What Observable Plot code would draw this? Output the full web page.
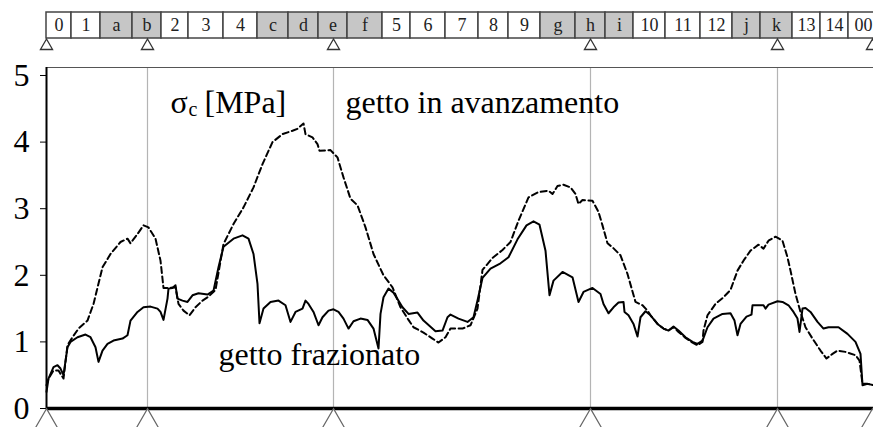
<!DOCTYPE html>
<html>
<head>
<meta charset="utf-8">
<script src="https://cdn.jsdelivr.net/npm/d3@7"></script>
<script src="https://cdn.jsdelivr.net/npm/@observablehq/plot@0.6"></script>
<style>
  html, body { margin: 0; padding: 0; background: white; overflow: hidden; }
  svg { display: block; }
</style>
</head>
<body>
<div id="chart"></div>
<script>
// ---- data (positions along the deck, arbitrary length unit) ----
const segLabels = ["0","1","a","b","2","3","4","c","d","e","f","5","6","7","8","9","g","h","i","10","11","12","j","k","13","14","00"];
const segStarts = [0,25,54,86,115,142,177,211,242,272,301,336,364,399,432,462,494,529,559,587,619,654,686,714,746,774,802];
const segEnd = 832;
const supports = [0,101,287,544,731,826];
const yTicks = [0,1,2,3,4,5];

// getto frazionato (solid)
const frazS = [0,2,7,11,14,17,21,24,31,39,44,49,52,56,61,67,76,81,84,91,97,104,111,114,117,121,122,126,129,131,136,141,146,152,161,167,172,177,187,196,202,207,211,213,217,224,232,239,244,249,256,259,262,267,272,276,282,287,292,297,302,307,314,321,327,332,334,337,342,347,356,362,371,377,389,396,401,404,412,421,427,431,436,444,454,462,471,480,487,493,499,503,507,516,526,532,537,546,554,557,562,567,572,577,578,582,587,591,594,599,604,611,617,622,627,632,639,646,651,656,661,667,676,684,688,691,694,700,705,706,717,719,722,731,736,742,747,751,753,756,759,764,771,777,782,792,801,809,814,816,821,827];
const frazV = [0.25,0.45,0.62,0.65,0.60,0.50,0.92,1.00,1.07,1.11,1.07,0.92,0.70,0.87,0.97,1.02,1.05,1.10,1.32,1.45,1.52,1.53,1.50,1.45,1.33,1.65,1.80,1.81,1.85,1.65,1.62,1.60,1.70,1.73,1.71,1.77,2.12,2.43,2.55,2.60,2.55,2.32,1.87,1.28,1.50,1.60,1.62,1.55,1.30,1.45,1.50,1.62,1.57,1.45,1.25,1.37,1.47,1.49,1.45,1.35,1.20,1.31,1.35,1.33,1.20,0.90,1.42,1.67,1.80,1.74,1.52,1.42,1.44,1.32,1.16,1.17,1.37,1.41,1.35,1.30,1.37,1.62,1.96,2.10,2.18,2.27,2.54,2.75,2.81,2.76,2.37,1.70,1.92,2.05,1.97,1.60,1.75,1.81,1.72,1.57,1.43,1.52,1.59,1.60,1.45,1.40,1.27,1.08,1.37,1.46,1.40,1.27,1.20,1.17,1.23,1.17,1.07,1.00,0.97,1.02,1.22,1.35,1.42,1.43,1.32,1.10,1.27,1.38,1.41,1.55,1.55,1.50,1.56,1.61,1.60,1.55,1.45,1.35,1.15,1.50,1.51,1.45,1.30,1.20,1.22,1.22,1.12,1.00,0.82,0.35,0.37,0.35];

// getto in avanzamento (dashed)
const avanzS = [0,2,7,12,17,21,26,32,41,47,56,64,74,81,84,91,97,102,109,114,117,122,129,132,137,143,149,156,162,169,177,187,197,207,216,226,236,246,251,257,259,266,271,273,284,291,297,304,311,319,327,337,346,354,362,367,377,386,392,399,404,416,424,431,436,446,456,464,472,482,492,502,506,511,517,524,529,532,536,546,552,556,561,566,574,581,589,596,601,604,611,617,622,627,632,639,646,651,656,657,661,669,677,684,691,697,704,712,717,722,729,736,741,744,749,754,759,766,774,780,786,791,799,809,813,816,821,827];
const avanzV = [0.35,0.45,0.57,0.57,0.45,0.95,1.07,1.20,1.32,1.57,2.12,2.32,2.50,2.55,2.48,2.62,2.75,2.72,2.55,2.22,1.81,1.81,1.82,1.57,1.47,1.40,1.52,1.62,1.68,1.78,2.47,2.77,3.02,3.32,3.67,4.00,4.12,4.17,4.20,4.28,4.12,4.07,3.97,3.87,3.88,3.77,3.47,3.15,3.05,2.72,2.32,2.00,1.82,1.52,1.33,1.22,1.14,1.05,0.99,1.07,1.20,1.20,1.25,1.50,2.08,2.26,2.38,2.50,2.82,3.17,3.25,3.27,3.22,3.34,3.36,3.32,3.22,3.07,3.13,3.12,2.95,2.75,2.48,2.42,2.30,2.02,1.60,1.55,1.47,1.40,1.27,1.20,1.17,1.22,1.15,1.06,0.99,0.95,1.00,1.17,1.40,1.57,1.67,1.78,2.07,2.22,2.37,2.46,2.40,2.52,2.58,2.52,2.27,2.07,1.72,1.45,1.22,1.05,0.87,0.75,0.82,0.87,0.85,0.80,0.72,0.37,0.37,0.35];

// ---- tables built from the arrays ----
const segs = segLabels.map((l, i) => ({
  label: l,
  x1: segStarts[i],
  x2: i + 1 < segStarts.length ? segStarts[i + 1] : segEnd,
  shaded: /[a-z]/.test(l)
}));
const fraz = frazS.map((s, i) => ({s, v: frazV[i]}));
const avanz = avanzS.map((s, i) => ({s, v: avanzV[i]}));

const serif = "Liberation Serif, Times New Roman, serif";
const xDomain = [0, 827];
const yTop = 5.12;

const strip = Plot.plot({
  width: 873, height: 52,
  marginLeft: 46, marginRight: 0, marginTop: 12, marginBottom: 14,
  x: {domain: xDomain, axis: null},
  y: {domain: [0, 1], axis: null},
  marks: [
    Plot.rect(segs, {x1: "x1", x2: "x2", y1: 0, y2: 1,
      fill: d => d.shaded ? "#c6c6c6" : "white", stroke: "#444", strokeWidth: 1.5}),
    Plot.text(segs, {x: d => (d.x1 + d.x2) / 2, y: 0.5, text: "label",
      fontSize: 18, fontFamily: serif, fill: "#222"}),
    Plot.dot(supports, {x: d => d, y: 0, symbol: "triangle", r: 4.5, dy: 7.5,
      stroke: "#333", fill: "white", strokeWidth: 1.3})
  ]
});

const main = Plot.plot({
  width: 873, height: 375,
  marginLeft: 46, marginRight: 0, marginTop: 15, marginBottom: 19,
  x: {domain: xDomain, axis: null},
  y: {domain: [0, yTop], axis: null},
  marks: [
    Plot.ruleX(supports.slice(1, -1), {y1: 0, y2: yTop, stroke: "#b4b4b4", strokeWidth: 1.2}),
    Plot.ruleY([yTop], {stroke: "#555", strokeWidth: 1.2}),
    Plot.axisY({ticks: yTicks, tickSize: 6, tickPadding: 11, fontSize: 32,
      fontFamily: serif, stroke: "black", color: "black", label: null, tickFormat: d => String(d)}),
    Plot.line(avanz, {x: "s", y: "v", stroke: "black", strokeWidth: 2, strokeDasharray: "6,3.5"}),
    Plot.line(fraz, {x: "s", y: "v", stroke: "black", strokeWidth: 2}),
    Plot.ruleX([0], {y1: 0, y2: yTop, stroke: "black", strokeWidth: 2}),
    Plot.ruleY([0], {stroke: "black", strokeWidth: 3.5}),
    Plot.dot(supports, {x: d => d, y: 0, symbol: "triangle", r: 8.9, dy: 14,
      stroke: "#666", fill: "white", strokeWidth: 1.2}),
    Plot.text(["σ"], {x: 124, y: 4.43, text: d => d, textAnchor: "start", lineAnchor: "bottom",
      fontSize: 32, fontFamily: serif, fill: "black"}),
    Plot.text(["c"], {x: 142, y: 4.39, text: d => d, textAnchor: "start", lineAnchor: "bottom",
      fontSize: 20, fontFamily: serif, fill: "black"}),
    Plot.text(["[MPa]"], {x: 158, y: 4.43, text: d => d, textAnchor: "start", lineAnchor: "bottom",
      fontSize: 32, fontFamily: serif, fill: "black"}),
    Plot.text(["getto in avanzamento"], {x: 299, y: 4.43, text: d => d, textAnchor: "start", lineAnchor: "bottom",
      fontSize: 32, fontFamily: serif, fill: "black"}),
    Plot.text(["getto frazionato"], {x: 172, y: 0.646, text: d => d, textAnchor: "start", lineAnchor: "bottom",
      fontSize: 32, fontFamily: serif, fill: "black"})
  ]
});

const root = document.getElementById("chart");
root.appendChild(strip);
root.appendChild(main);
</script>
</body>
</html>
